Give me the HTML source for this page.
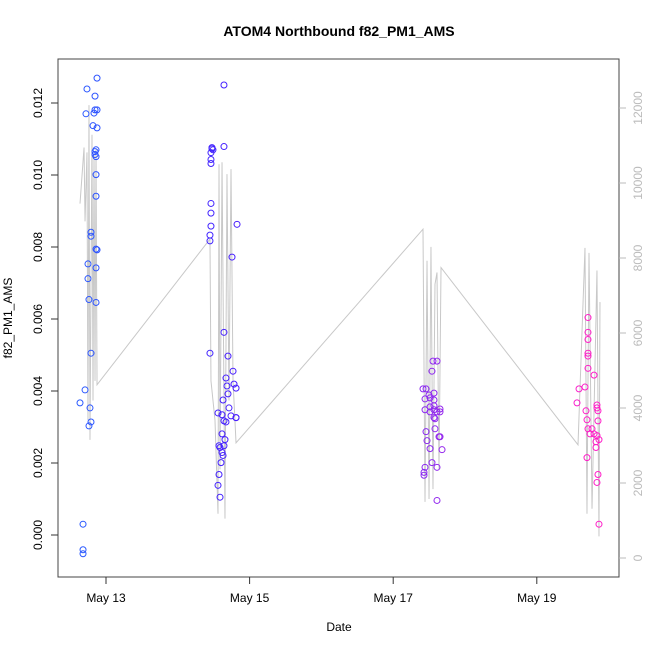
<!DOCTYPE html>
<html><head><meta charset="utf-8"><style>
body{margin:0;background:#fff;}
svg{display:block;font-family:"Liberation Sans",Arial,sans-serif;}
</style></head><body>
<svg id="chart" width="650" height="650">
<rect x="0" y="0" width="650" height="650" fill="#fff"/>
<text x="339" y="36" text-anchor="middle" font-size="14" font-weight="bold">ATOM4 Northbound f82_PM1_AMS</text>
<text x="339" y="631" text-anchor="middle" font-size="12">Date</text>
<text transform="translate(12,318) rotate(-90)" text-anchor="middle" font-size="12">f82_PM1_AMS</text>
<g id="lineg"></g>
<g id="ptg"></g>
<g id="axg"></g>
</svg>
<script>
// Scatter data (date as day of May, value in thousandths)
const ptDays=[12.638,12.680,12.680,12.680,12.708,12.721,12.735,12.749,12.749,12.763,12.763,12.777,12.791,12.791,12.791,12.791,12.819,12.833,12.847,12.847,12.847,12.847,12.861,12.861,12.861,12.861,12.861,12.861,12.861,12.875,12.875,12.875,12.875,
14.448,14.448,14.448,14.462,14.462,14.462,14.462,14.462,14.462,14.476,14.476,14.490,14.643,14.643,14.643,14.671,14.699,14.560,14.574,14.588,14.616,14.616,14.616,14.630,14.643,14.657,14.671,14.685,14.699,14.713,14.741,14.755,14.769,14.783,14.811,14.811,14.811,14.825,14.560,14.574,14.602,14.630,14.643,14.588,
17.554,17.610,17.540,17.415,17.457,17.499,17.568,17.443,17.513,17.568,17.513,17.568,17.443,17.513,17.568,17.610,17.652,17.568,17.582,17.652,17.457,17.471,17.513,17.582,17.638,17.652,17.680,17.540,17.610,17.443,17.429,17.429,17.610,
19.713,19.713,19.713,19.713,19.713,19.713,19.797,19.671,19.560,19.685,19.838,19.838,19.852,19.699,19.852,19.713,19.769,19.741,19.797,19.838,19.824,19.866,19.824,19.699,19.852,19.838,19.866,19.588];
const ptVals=[3.67,0.30,-0.41,-0.52,4.03,11.70,12.39,7.53,7.12,6.54,3.03,3.53,3.14,5.05,8.41,8.30,11.37,11.72,12.19,11.81,10.65,10.57,10.70,10.51,10.01,9.41,7.94,7.42,6.46,12.69,11.81,11.31,7.92,
5.05,8.17,8.33,8.58,8.94,9.21,10.32,10.43,10.62,10.73,10.76,10.70,12.50,10.79,5.63,4.36,4.97,3.39,2.48,2.43,2.81,2.29,3.34,3.75,3.17,2.65,3.14,4.14,3.92,3.53,3.31,7.72,4.55,4.19,4.08,3.26,3.26,8.63,1.38,1.68,2.01,2.21,2.48,1.05,
4.83,4.83,4.55,4.06,4.06,3.89,3.94,3.78,3.81,3.75,3.56,3.59,3.48,3.42,3.48,3.42,3.42,3.26,3.23,3.50,2.87,2.62,2.40,2.95,2.73,2.73,2.37,2.01,1.88,1.88,1.74,1.66,0.96,
6.04,5.63,5.43,5.05,4.97,4.63,4.44,4.11,3.67,3.45,3.61,3.53,3.45,3.20,3.17,2.95,2.95,2.81,2.81,2.76,2.59,2.65,2.43,2.15,1.68,1.46,0.30,4.06];
// Secondary series (right axis)
const lnDays=[12.638,12.694,12.708,12.735,12.749,12.763,12.777,12.805,12.819,12.833,12.847,12.861,12.875,
14.448,14.462,14.518,14.560,14.574,14.588,14.616,14.657,14.685,14.713,14.741,14.769,14.811,
17.415,17.443,17.471,17.499,17.526,17.554,17.582,17.610,17.638,17.666,19.574,
19.671,19.699,19.727,19.769,19.838,19.866,19.880];
const lnVals=[9450,10946,8978,10815,3675,12075,3150,11288,4200,10763,4725,10894,4620,
8505,4725,3675,1181,10500,2363,10553,1050,10238,4200,10369,4725,3071,
8768,1496,7928,1575,8295,1838,7298,7613,2363,7744,3019,
8269,1181,8138,1313,7665,578,6825];
const leftTicks=["0.000","0.002","0.004","0.006","0.008","0.010","0.012"];
const rightTicks=["0","2000","4000","6000","8000","10000","12000"];
const xTickDays=[13,15,17,19];
const xTickLabels=["May 13","May 15","May 17","May 19"];

const NS="http://www.w3.org/2000/svg";
const X=d=>106+(d-13)*71.8;
const Y=v=>535-v*36;
const YR=v=>558-v*0.0375;
function mk(t,a,p){const e=document.createElementNS(NS,t);for(const k in a)e.setAttribute(k,a[k]);p.appendChild(e);return e;}
function col(d){
  const stops=[[12.6,[40,90,255]],[14.7,[70,30,255]],[17.5,[140,40,240]],[19.7,[255,30,200]]];
  let i=0;while(i<stops.length-2&&d>stops[i+1][0])i++;
  const a=stops[i],b=stops[i+1];let t=(d-a[0])/(b[0]-a[0]);t=Math.max(0,Math.min(1,t));
  return "rgb("+a[1].map((c,j)=>Math.round(c+(b[1][j]-c)*t)).join(",")+")";
}
const lg=document.getElementById('lineg'),pg=document.getElementById('ptg'),ag=document.getElementById('axg');
const line=mk('polyline',{points:lnDays.map((d,i)=>X(d)+","+YR(lnVals[i])).join(" "),fill:"none",stroke:"#c8c8c8","stroke-width":1},lg);


ptDays.forEach((d,i)=>{
  const c=mk('circle',{cx:X(d),cy:Y(ptVals[i]),r:3,fill:"none",stroke:col(d),"stroke-width":1},pg);
  
  
});
const box=mk('rect',{x:58,y:59,width:561,height:518,fill:"none",stroke:"#444","stroke-width":1},ag);


leftTicks.forEach(s=>{
  const y=Y(parseFloat(s)*1000);
  mk('line',{x1:51,x2:58,y1:y,y2:y,stroke:"#333"},ag);
  const t=mk('text',{transform:`translate(42,${y}) rotate(-90)`,"text-anchor":"middle","font-size":12},ag);
  t.textContent=s;
  
  
});
rightTicks.forEach(s=>{
  const y=YR(parseFloat(s));
  mk('line',{x1:619,x2:626,y1:y,y2:y,stroke:"#bbb"},ag);
  const t=mk('text',{transform:`translate(642,${y}) rotate(-90)`,"text-anchor":"middle","font-size":12,fill:"#bbb"},ag);
  t.textContent=s;
  
  
});
xTickDays.forEach((d,i)=>{
  const x=X(d);
  mk('line',{x1:x,x2:x,y1:577,y2:584,stroke:"#333"},ag);
  const t=mk('text',{x:x,y:602,"text-anchor":"middle","font-size":12},ag);
  t.textContent=xTickLabels[i];
  
  
});
</script>
</body></html>
